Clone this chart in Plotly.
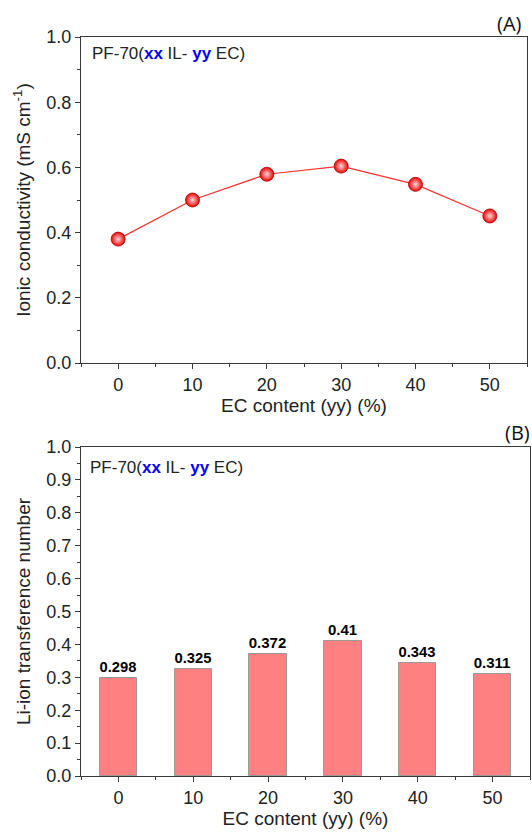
import plotly.graph_objects as go

# ---- data ----
ec_content = [0, 10, 20, 30, 40, 50]
ionic_conductivity = [0.380, 0.500, 0.579, 0.604, 0.548, 0.451]
transference = [0.298, 0.325, 0.372, 0.41, 0.343, 0.311]
transference_labels = ["0.298", "0.325", "0.372", "0.41", "0.343", "0.311"]
x_ticks = [0, 10, 20, 30, 40, 50]

W, H = 532, 834
FONT = "Liberation Sans, Arial, sans-serif"
AX = "#3a3a3a"


def px_x(p):
    return p / W


def px_y(p):
    return 1 - p / H


fig = go.Figure()

fig.add_trace(go.Scatter(
    x=ec_content, y=ionic_conductivity, mode="lines+markers",
    line=dict(color="#ff3030", width=1.2),
    marker=dict(size=14, color="#f00000",
                line=dict(color="#b00000", width=0.8),
                gradient=dict(type="radial", color="#ffd8d8")),
    xaxis="x", yaxis="y", showlegend=False, cliponaxis=False,
))

fig.add_trace(go.Bar(
    x=ec_content, y=transference, width=5,
    marker=dict(color="#ff8080", line=dict(color="#9a9a9a", width=1)),
    text=transference_labels, textposition="outside",
    textfont=dict(family=FONT, size=15, color="black", weight="bold"),
    xaxis="x2", yaxis="y2", showlegend=False, cliponaxis=False,
))

common_x = dict(
    range=[-5, 55], tickvals=x_ticks, ticks="outside", ticklen=5, tickwidth=1.3,
    tickcolor=AX, showline=True, linecolor=AX, linewidth=1.3, mirror=True,
    showgrid=False, zeroline=False, automargin=False,
    tickfont=dict(family=FONT, size=18, color="#222"),
    minor=dict(dtick=5, tick0=0, ticks="outside", ticklen=3, tickcolor=AX, showgrid=False),
    title=dict(text="EC content (yy) (%)", font=dict(family=FONT, size=19, color="#222"), standoff=4),
)
common_y = dict(
    range=[0, 1], ticks="outside", ticklen=5, tickwidth=1.3, tickcolor=AX,
    showline=True, linecolor=AX, linewidth=1.3, mirror=True,
    showgrid=False, zeroline=False, tickformat=".1f", automargin=False,
    tickfont=dict(family=FONT, size=18, color="#222"),
)

fig.update_layout(
    width=W, height=H, margin=dict(l=0, r=0, t=0, b=0),
    paper_bgcolor="white", plot_bgcolor="white",
    bargap=0,
    xaxis=dict(common_x, domain=[px_x(81), px_x(527)], anchor="y"),
    yaxis=dict(common_y, domain=[px_y(363), px_y(37)], anchor="x", dtick=0.2,
               minor=dict(dtick=0.1, ticks="outside", ticklen=3, tickcolor=AX, showgrid=False),
               title=dict(text="Ionic conductivity (mS cm<sup>-1</sup>)",
                          font=dict(family=FONT, size=19, color="#222"), standoff=10)),
    xaxis2=dict(common_x, domain=[px_x(81), px_x(530)], anchor="y2"),
    yaxis2=dict(common_y, domain=[px_y(776), px_y(447)], anchor="x2", dtick=0.1,
                minor=dict(dtick=0.05, ticks="outside", ticklen=3, tickcolor=AX, showgrid=False),
                title=dict(text="Li-ion transference number",
                           font=dict(family=FONT, size=19, color="#222"), standoff=10)),
)

label = "PF-70(<b><span style='color:#0000ff'>xx</span></b> IL- <b><span style='color:#0000ff'>yy</span></b> EC)"
fig.add_annotation(text=label, xref="paper", yref="paper", x=px_x(90), y=px_y(53),
                   xanchor="left", yanchor="middle", showarrow=False,
                   font=dict(family=FONT, size=17, color="#222"))
fig.add_annotation(text=label, xref="paper", yref="paper", x=px_x(88), y=px_y(468),
                   xanchor="left", yanchor="middle", showarrow=False,
                   font=dict(family=FONT, size=17, color="#222"))
fig.add_annotation(text="(A)", xref="paper", yref="paper", x=px_x(524), y=px_y(23),
                   xanchor="right", yanchor="middle", showarrow=False,
                   font=dict(family="Open Sans, sans-serif", size=20, color="#111"))
fig.add_annotation(text="(B)", xref="paper", yref="paper", x=px_x(532), y=px_y(432),
                   xanchor="right", yanchor="middle", showarrow=False,
                   font=dict(family="Open Sans, sans-serif", size=20, color="#111"))

fig.write_html("out.html")
